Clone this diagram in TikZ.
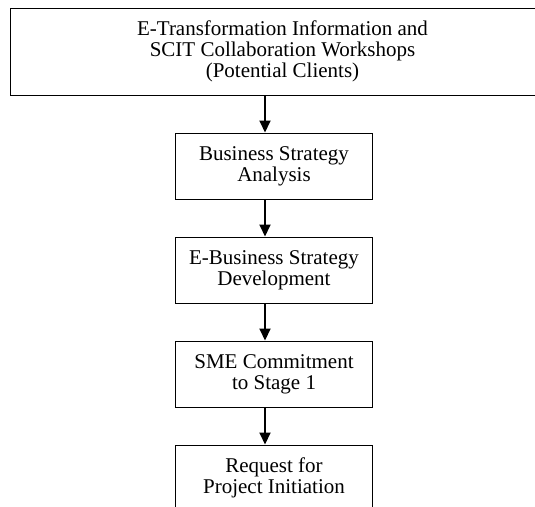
\documentclass[tikz,border=0pt]{standalone}
\usepackage{fontspec}
\setmainfont{Liberation Serif}
\usetikzlibrary{positioning,arrows.meta}

\begin{document}
\begin{tikzpicture}[node distance = 37pt,
    box/.style={draw, line width=1pt, minimum width=197pt, minimum height=66pt,
        align=center, inner sep=2pt, font=\fontsize{21}{21}\selectfont},
    flow/.style={-{Triangle[length=12pt,width=11pt]}, line width=2pt}]
    \useasboundingbox (0,0) rectangle (535pt,-506pt);
    \clip (0,0) rectangle (535pt,-506pt);

    \node[box, minimum width=545pt, minimum height=87pt] (work) at (282.5pt,-51.5pt)
        {E-Transformation Information and\\SCIT Collaboration Workshops\\(Potential Clients)};
    \node[box] (bsa) [below= of work, xshift=-8.5pt] {Business Strategy\\Analysis};
    \node[box] (ebs) [below= of bsa] {E-Business Strategy\\Development};
    \node[box] (sme) [below= of ebs] {SME Commitment\\to Stage 1};
    \node[box] (req) [below= of sme] {Request for\\Project Initiation};

    \path[flow]
    ([xshift=-9pt]bsa.north |- work.south) edge ([xshift=-9pt]bsa.north)
    ([xshift=-9pt]bsa.south) edge ([xshift=-9pt]ebs.north)
    ([xshift=-9pt]ebs.south) edge ([xshift=-9pt]sme.north)
    ([xshift=-9pt]sme.south) edge ([xshift=-9pt]req.north);
\end{tikzpicture}
\end{document}
